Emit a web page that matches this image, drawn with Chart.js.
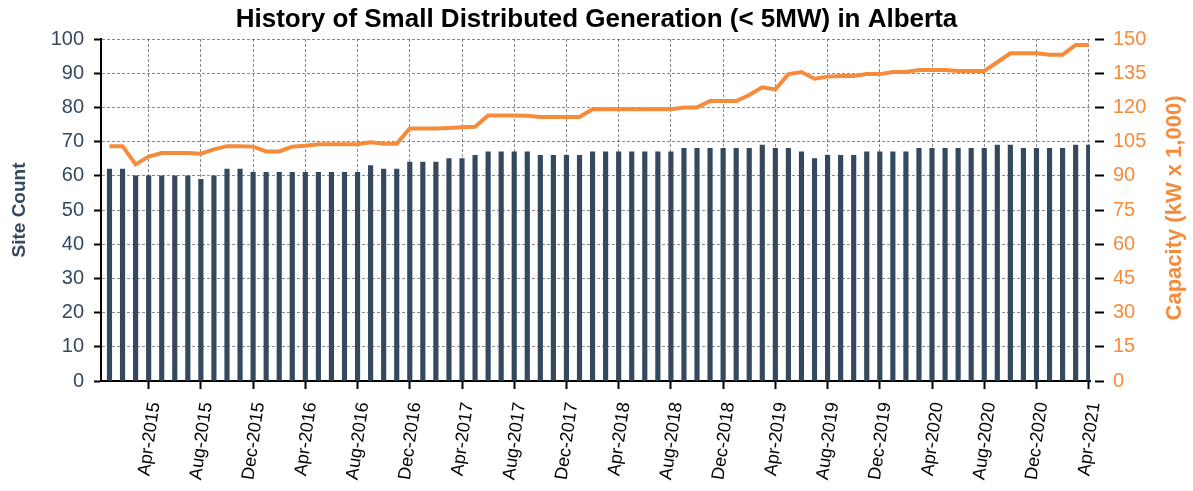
<!DOCTYPE html>
<html>
<head>
<meta charset="utf-8">
<script src="https://cdn.jsdelivr.net/npm/chart.js@4/dist/chart.umd.min.js"></script>
<style>
  body { margin: 0; background: #fff; }
  #wrap { width: 1193px; height: 491px; position: relative; }
</style>
</head>
<body>
<div id="wrap"><canvas id="dg-chart"></canvas></div>
<script>
// monthly labels, Jan 2015 .. Apr 2021
const months = [
    'Jan-2015', 'Feb-2015', 'Mar-2015', 'Apr-2015', 'May-2015', 'Jun-2015', 'Jul-2015', 'Aug-2015', 'Sep-2015', 'Oct-2015', 'Nov-2015', 'Dec-2015',
    'Jan-2016', 'Feb-2016', 'Mar-2016', 'Apr-2016', 'May-2016', 'Jun-2016', 'Jul-2016', 'Aug-2016', 'Sep-2016', 'Oct-2016', 'Nov-2016', 'Dec-2016',
    'Jan-2017', 'Feb-2017', 'Mar-2017', 'Apr-2017', 'May-2017', 'Jun-2017', 'Jul-2017', 'Aug-2017', 'Sep-2017', 'Oct-2017', 'Nov-2017', 'Dec-2017',
    'Jan-2018', 'Feb-2018', 'Mar-2018', 'Apr-2018', 'May-2018', 'Jun-2018', 'Jul-2018', 'Aug-2018', 'Sep-2018', 'Oct-2018', 'Nov-2018', 'Dec-2018',
    'Jan-2019', 'Feb-2019', 'Mar-2019', 'Apr-2019', 'May-2019', 'Jun-2019', 'Jul-2019', 'Aug-2019', 'Sep-2019', 'Oct-2019', 'Nov-2019', 'Dec-2019',
    'Jan-2020', 'Feb-2020', 'Mar-2020', 'Apr-2020', 'May-2020', 'Jun-2020', 'Jul-2020', 'Aug-2020', 'Sep-2020', 'Oct-2020', 'Nov-2020', 'Dec-2020',
    'Jan-2021', 'Feb-2021', 'Mar-2021', 'Apr-2021'
];

// number of sites per month (left axis)
const siteCount = [
    62, 62, 60, 60, 60, 60, 60, 59, 60, 62, 62, 61,
    61, 61, 61, 61, 61, 61, 61, 61, 63, 62, 62, 64,
    64, 64, 65, 65, 66, 67, 67, 67, 67, 66, 66, 66,
    66, 67, 67, 67, 67, 67, 67, 67, 68, 68, 68, 68,
    68, 68, 69, 68, 68, 67, 65, 66, 66, 66, 67, 67,
    67, 67, 68, 68, 68, 68, 68, 68, 69, 69, 68, 68,
    68, 68, 69, 69
];

// installed capacity, kW x 1,000 (right axis)
const capacity = [
    103, 103, 95, 98.4, 100, 100, 100, 99.7, 101.6, 103, 103, 102.8,
    100.7, 100.7, 102.8, 103.2, 103.8, 103.8, 103.8, 103.8, 104.7, 104.1, 104.1, 110.8,
    110.8, 110.8, 111, 111.3, 111.5, 116.5, 116.5, 116.5, 116.3, 115.8, 115.8, 115.8,
    115.8, 119.2, 119.2, 119.2, 119.2, 119.2, 119.2, 119.2, 120, 120, 122.8, 122.8,
    122.8, 125.4, 128.8, 127.9, 134.6, 135.5, 132.6, 133.5, 133.8, 133.8, 134.6, 134.6,
    135.5, 135.5, 136.4, 136.4, 136.4, 136, 136, 136, 139.8, 143.7, 143.7, 143.7,
    143.1, 143.1, 147.4, 147.4
];

const barColor = '#34495E';
const lineColor = '#F68B3C';
const gridColor = 'rgba(0, 0, 0, 0.45)';

Chart.defaults.font.family = '"Liberation Sans", Arial, sans-serif';

// every 4th month gets a label, tick and grid line (Apr, Aug, Dec)
function isLabelled(index) {
    return index % 4 === 3;
}

// month index as x, so bars sit on a numeric axis
const barPoints = siteCount.map((v, i) => ({ x: i, y: v }));
const linePoints = capacity.map((v, i) => ({ x: i, y: v }));

// right axis title reads bottom-to-top, so draw it by hand
const rightTitle = {
    id: 'rightTitle',
    afterDraw(chart) {
        const ctx = chart.ctx;
        const area = chart.chartArea;
        ctx.save();
        ctx.translate(1175, (area.top + area.bottom) / 2 - 2);
        ctx.rotate(-Math.PI / 2);
        ctx.font = 'bold 22px "Liberation Sans", Arial, sans-serif';
        ctx.fillStyle = lineColor;
        ctx.textAlign = 'center';
        ctx.textBaseline = 'middle';
        ctx.fillText('Capacity (kW x 1,000)', 0, 0);
        ctx.restore();
    }
};

new Chart(document.getElementById('dg-chart'), {
    type: 'bar',
    data: {
        datasets: [
            {
                type: 'line',
                label: 'Capacity',
                data: linePoints,
                yAxisID: 'y1',
                borderColor: lineColor,
                borderWidth: 4,
                pointRadius: 0,
                tension: 0,
                order: 0
            },
            {
                label: 'Site Count',
                data: barPoints,
                yAxisID: 'y',
                backgroundColor: barColor,
                barThickness: 4.5,
                order: 1
            }
        ]
    },
    options: {
        responsive: true,
        maintainAspectRatio: false,
        animation: false,
        layout: { padding: 0 },
        plugins: {
            legend: { display: false },
            tooltip: { enabled: false },
            title: {
                display: true,
                text: 'History of Small Distributed Generation (< 5MW) in Alberta',
                color: '#000',
                font: { size: 26, weight: 'bold' },
                padding: { top: 4, bottom: 3.8 }
            }
        },
        scales: {
            x: {
                type: 'linear',
                offset: false,
                min: -0.65,
                max: 75.1,
                afterFit: scale => { scale.height = 110; },
                afterBuildTicks: scale => {
                    scale.ticks = months.map((m, i) => ({ value: i })).filter(t => isLabelled(t.value));
                },
                grid: {
                    offset: false,
                    color: gridColor,
                    tickColor: '#000',
                    tickLength: 8,
                    tickWidth: 2,
                    lineWidth: 1
                },
                border: { color: '#000', width: 2, dash: [3, 2] },
                ticks: {
                    autoSkip: false,
                    minRotation: 82,
                    maxRotation: 82,
                    color: '#000',
                    font: { size: 18 },
                    padding: 12,
                    labelOffset: 6,
                    callback: value => months[value] || ''
                }
            },
            y: {
                position: 'left',
                min: 0,
                max: 100,
                afterFit: scale => { scale.width = 101; },
                grid: {
                    color: gridColor,
                    tickColor: '#000',
                    tickLength: 7,
                    tickWidth: 2,
                    lineWidth: 1
                },
                border: { color: '#000', width: 2, dash: [3, 2] },
                ticks: {
                    stepSize: 10,
                    color: barColor,
                    font: { size: 20 },
                    padding: 10
                },
                title: {
                    display: true,
                    text: 'Site Count',
                    color: barColor,
                    font: { size: 19, weight: 'bold' },
                    padding: { top: 8, bottom: 0 }
                }
            },
            y1: {
                position: 'right',
                min: 0,
                max: 150,
                afterFit: scale => { scale.width = 103; },
                grid: {
                    drawOnChartArea: false,
                    tickColor: '#000',
                    tickLength: 14,
                    tickWidth: 2,
                    tickBorderDash: [0, 5, 9]
                },
                border: { display: false },
                ticks: {
                    stepSize: 15,
                    color: lineColor,
                    font: { size: 20 },
                    padding: 9
                }
            }
        }
    },
    plugins: [rightTitle]
});
</script>
</body>
</html>
